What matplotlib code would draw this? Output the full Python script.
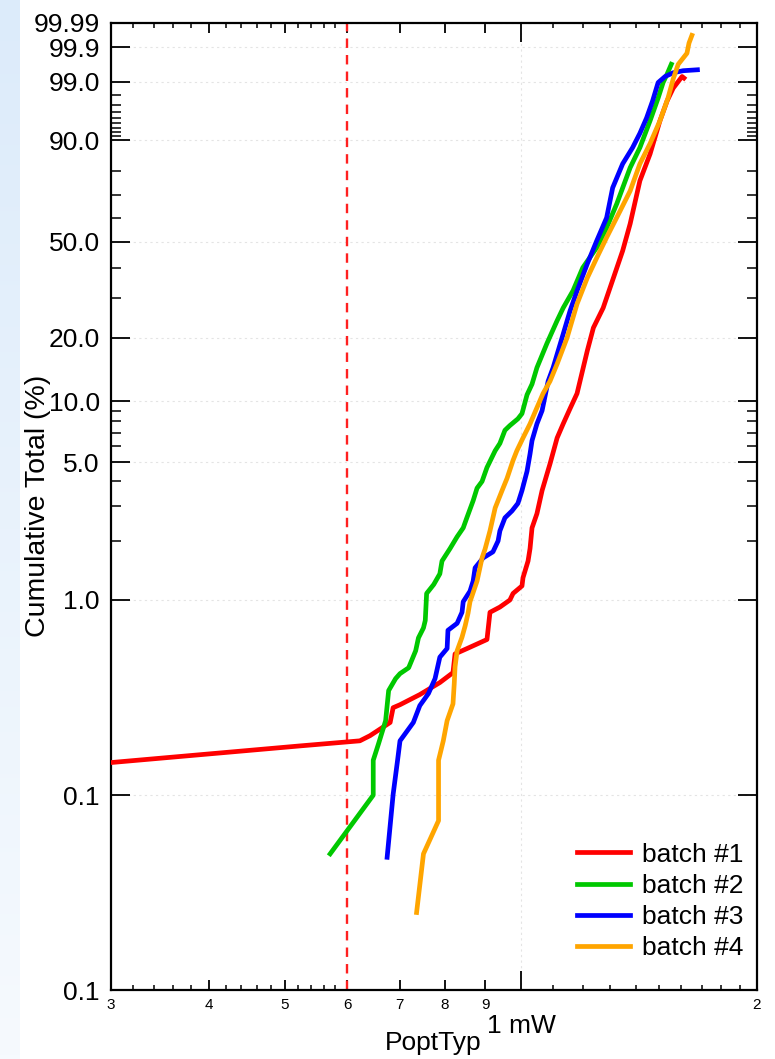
import numpy as np
import matplotlib.pyplot as plt
from matplotlib.ticker import FixedLocator, FixedFormatter, NullFormatter

plt.rcParams['font.family'] = ['Liberation Sans', 'DejaVu Sans']

# PoptTyp (mW) vs cumulative total (%)
b1_x = [3.0, 5.23, 6.23, 6.42, 6.81, 6.87, 7.01, 7.43, 7.88, 8.19, 8.24, 8.54, 9.05, 9.13, 9.40, 9.68,
        9.77, 10.03, 10.06, 10.21, 10.27, 10.33, 10.48, 10.64, 10.89, 11.12, 11.32, 11.55, 11.79, 12.15,
        12.37, 12.73, 13.08, 13.48, 13.78, 14.18, 14.61, 15.04, 15.36, 15.64, 16.05, 16.14]
b1_y = [0.147, 0.179, 0.19, 0.202, 0.236, 0.281, 0.291, 0.328, 0.378, 0.425, 0.53, 0.565, 0.628, 0.865,
        0.92, 1.0, 1.08, 1.18, 1.30, 1.58, 1.83, 2.33, 2.75, 3.6, 4.9, 6.6, 7.75, 9.2, 10.9, 17.4,
        22.2, 27.2, 35.4, 46.4, 57.6, 76.0, 85.9, 94.5, 97.45, 98.6, 99.25, 99.18]

b2_x = [5.71, 6.48, 6.48, 6.58, 6.72, 6.78, 6.92, 7.01, 7.19, 7.34, 7.40, 7.51, 7.55, 7.58, 7.74, 7.88,
        7.93, 8.12, 8.29, 8.44, 8.53, 8.69, 8.79, 8.92, 9.05, 9.27, 9.40, 9.54, 9.68, 9.91, 10.03, 10.18,
        10.33, 10.48, 10.79, 11.12, 11.32, 11.65, 11.99, 12.49, 12.86, 13.25, 13.78, 14.18, 14.61, 14.96,
        15.18, 15.36, 15.55]
b2_y = [0.050, 0.1, 0.151, 0.183, 0.241, 0.344, 0.396, 0.42, 0.45, 0.55, 0.64, 0.72, 0.786, 1.08, 1.2,
        1.36, 1.58, 1.83, 2.1, 2.33, 2.62, 3.2, 3.7, 4.0, 4.7, 5.7, 6.2, 7.2, 7.6, 8.2, 8.7, 10.75,
        12.1, 14.5, 18.8, 23.9, 27.2, 32.2, 40.0, 47.6, 55.9, 66.3, 81.1, 87.9, 94.5, 97.75,
        98.95, 99.35, 99.65]

b3_x = [6.75, 6.87, 6.96, 7.01, 7.29, 7.43, 7.62, 7.77, 7.88, 8.05, 8.07, 8.29, 8.41, 8.44, 8.61, 8.69,
        8.74, 8.95, 9.21, 9.35, 9.40, 9.54, 9.74, 9.91, 10.03, 10.18, 10.27, 10.33, 10.48, 10.64, 10.83,
        10.99, 11.32, 11.55, 11.79, 12.15, 12.49, 12.86, 13.09, 13.48, 13.88, 14.18, 14.46, 14.72, 14.96,
        15.27, 15.64, 16.10, 16.79]
b3_y = [0.048, 0.101, 0.151, 0.19, 0.236, 0.288, 0.332, 0.396, 0.51, 0.565, 0.70, 0.76, 0.865, 0.98,
        1.11, 1.25, 1.46, 1.64, 1.76, 2.0, 2.25, 2.62, 2.84, 3.1, 3.6, 4.5, 5.5, 6.4, 7.75, 9.0, 12.5,
        14.5, 20.8, 26.4, 32.2, 41.4, 50.4, 60.2, 73.1, 82.5, 87.9, 91.8, 95.0, 97.45, 98.95,
        99.25, 99.4, 99.47, 99.5]

b4_x = [7.36, 7.51, 7.85, 7.85, 7.96, 8.05, 8.19, 8.22, 8.24, 8.29, 8.41, 8.49, 8.56, 8.61, 8.79, 8.92,
        9.00, 9.13, 9.27, 9.46, 9.60, 9.77, 9.88, 10.06, 10.27, 10.48, 10.67, 10.89, 11.12, 11.45, 11.79,
        12.15, 12.49, 12.86, 13.38, 13.78, 14.18, 14.61, 15.04, 15.40, 15.64, 15.87, 16.28, 16.38, 16.52]
b4_y = [0.025, 0.050, 0.074, 0.151, 0.19, 0.241, 0.294, 0.372, 0.455, 0.55, 0.645, 0.74, 0.855, 0.98,
        1.25, 1.64, 1.82, 2.25, 2.94, 3.6, 4.15, 5.1, 5.7, 6.6, 7.75, 9.3, 10.9, 12.5, 15.1, 20.0, 28.3,
        36.4, 43.6, 51.8, 63.2, 71.8, 82.5, 89.1, 94.5, 97.75, 99.15, 99.65, 99.84, 99.93, 99.965]

series = [(b1_x, b1_y, 'batch #1', '#ff0000'),
          (b2_x, b2_y, 'batch #2', '#00c800'),
          (b3_x, b3_y, 'batch #3', '#0000ff'),
          (b4_x, b4_y, 'batch #4', '#ffa500')]

y_major = [0.01, 0.1, 1, 5, 10, 20, 50, 90, 99, 99.9, 99.99]
y_labels = ['0.1', '0.1', '1.0', '5.0', '10.0', '20.0', '50.0', '90.0', '99.0', '99.9', '99.99']
y_minor = [2, 3, 4, 6, 7, 8, 9, 30, 40, 60, 70, 80, 91, 92, 93, 94, 95, 96, 97, 98]
x_major = [3, 4, 5, 6, 7, 8, 9, 10, 20]
x_labels = ['3', '4', '5', '6', '7', '8', '9', '', '2']
x_minor = [3.2, 3.4, 3.6, 3.8, 4.2, 4.4, 4.6, 4.8, 5.2, 5.4, 5.6, 5.8] + list(range(11, 20))
limit_x = 6.0


# Weibull probability scale
def fwd(p):
    p = np.asarray(p, dtype=float)
    with np.errstate(all='ignore'):
        q = np.clip(p / 100.0, 1e-12, 1 - 1e-12)
        return np.log(-np.log(1 - q))


def inv(w):
    w = np.asarray(w, dtype=float)
    with np.errstate(all='ignore'):
        return 100.0 * (1 - np.exp(-np.exp(w)))


fig = plt.figure(figsize=(7.75, 10.59), dpi=100)

# light blue strip on the left edge
strip = fig.add_axes([0, 0, 20 / 775, 1], zorder=-5)
grad = np.linspace(0, 1, 256).reshape(-1, 1)
top_c = np.array([0xdc, 0xeb, 0xfa]) / 255
bot_c = np.array([0xf6, 0xfa, 0xfe]) / 255
img = top_c * (1 - grad[..., None]) + bot_c * grad[..., None]
strip.imshow(img, aspect='auto', extent=[0, 1, 0, 1])
strip.axis('off')

ax = fig.add_axes([111 / 775, 69 / 1059, 646 / 775, 967 / 1059])

for xs, ys, lab, col in series:
    ax.plot(xs, ys, color=col, lw=3.4, label=lab, solid_joinstyle='round', zorder=3)

ax.axvline(limit_x, color='#ff2020', lw=1.7, ls=(0, (4, 3)), zorder=2)
ax.axvline(10, color='#e4e4e4', lw=0.8, ls=(0, (2, 3)), zorder=1)

ax.set_xscale('log')
ax.set_yscale('function', functions=(fwd, inv))
ax.set_xlim(3, 20)
ax.set_ylim(0.01, 99.99)

ax.xaxis.set_major_locator(FixedLocator(x_major))
ax.xaxis.set_major_formatter(FixedFormatter(x_labels))
ax.xaxis.set_minor_locator(FixedLocator(x_minor))
ax.xaxis.set_minor_formatter(NullFormatter())
ax.yaxis.set_major_locator(FixedLocator(y_major))
ax.yaxis.set_major_formatter(FixedFormatter(y_labels))
ax.yaxis.set_minor_locator(FixedLocator(y_minor))
ax.yaxis.set_minor_formatter(NullFormatter())

ax.tick_params(axis='x', which='major', direction='in', length=7, width=1.3, top=True,
               labelsize=11, pad=6)
ax.tick_params(axis='x', which='minor', direction='in', length=3.5, width=1.1, top=True)
ax.tick_params(axis='y', which='major', direction='in', length=14, width=1.3, right=True,
               labelsize=19, pad=8)
ax.tick_params(axis='y', which='minor', direction='in', length=7, width=1.1, right=True)
# the tick at 10 mW is drawn longer
ax.xaxis.get_major_ticks()[7].tick1line.set_markersize(14)
ax.xaxis.get_major_ticks()[7].tick2line.set_markersize(14)

for sp in ax.spines.values():
    sp.set_linewidth(1.6)

ax.grid(True, which='major', axis='y', color='#e4e4e4', lw=0.8, ls=(0, (2, 3)), zorder=0)

fig.text(38 / 775, 1 - 506 / 1059, 'Cumulative Total (%)', rotation=90, ha='center', va='center',
         fontsize=20.5)
fig.text(385 / 775, 1 - 1050 / 1059, 'PoptTyp', fontsize=19, va='baseline')
fig.text(487 / 775, 1 - 1033 / 1059, '1 mW', fontsize=19, va='baseline')

ax.legend(loc='lower right', bbox_to_anchor=(1 - 14 / 646, 30 / 967), frameon=False, fontsize=19,
          handlelength=2.0, handletextpad=0.45, labelspacing=0.27, borderaxespad=0, borderpad=0)

fig.savefig('out.png', dpi=100)
